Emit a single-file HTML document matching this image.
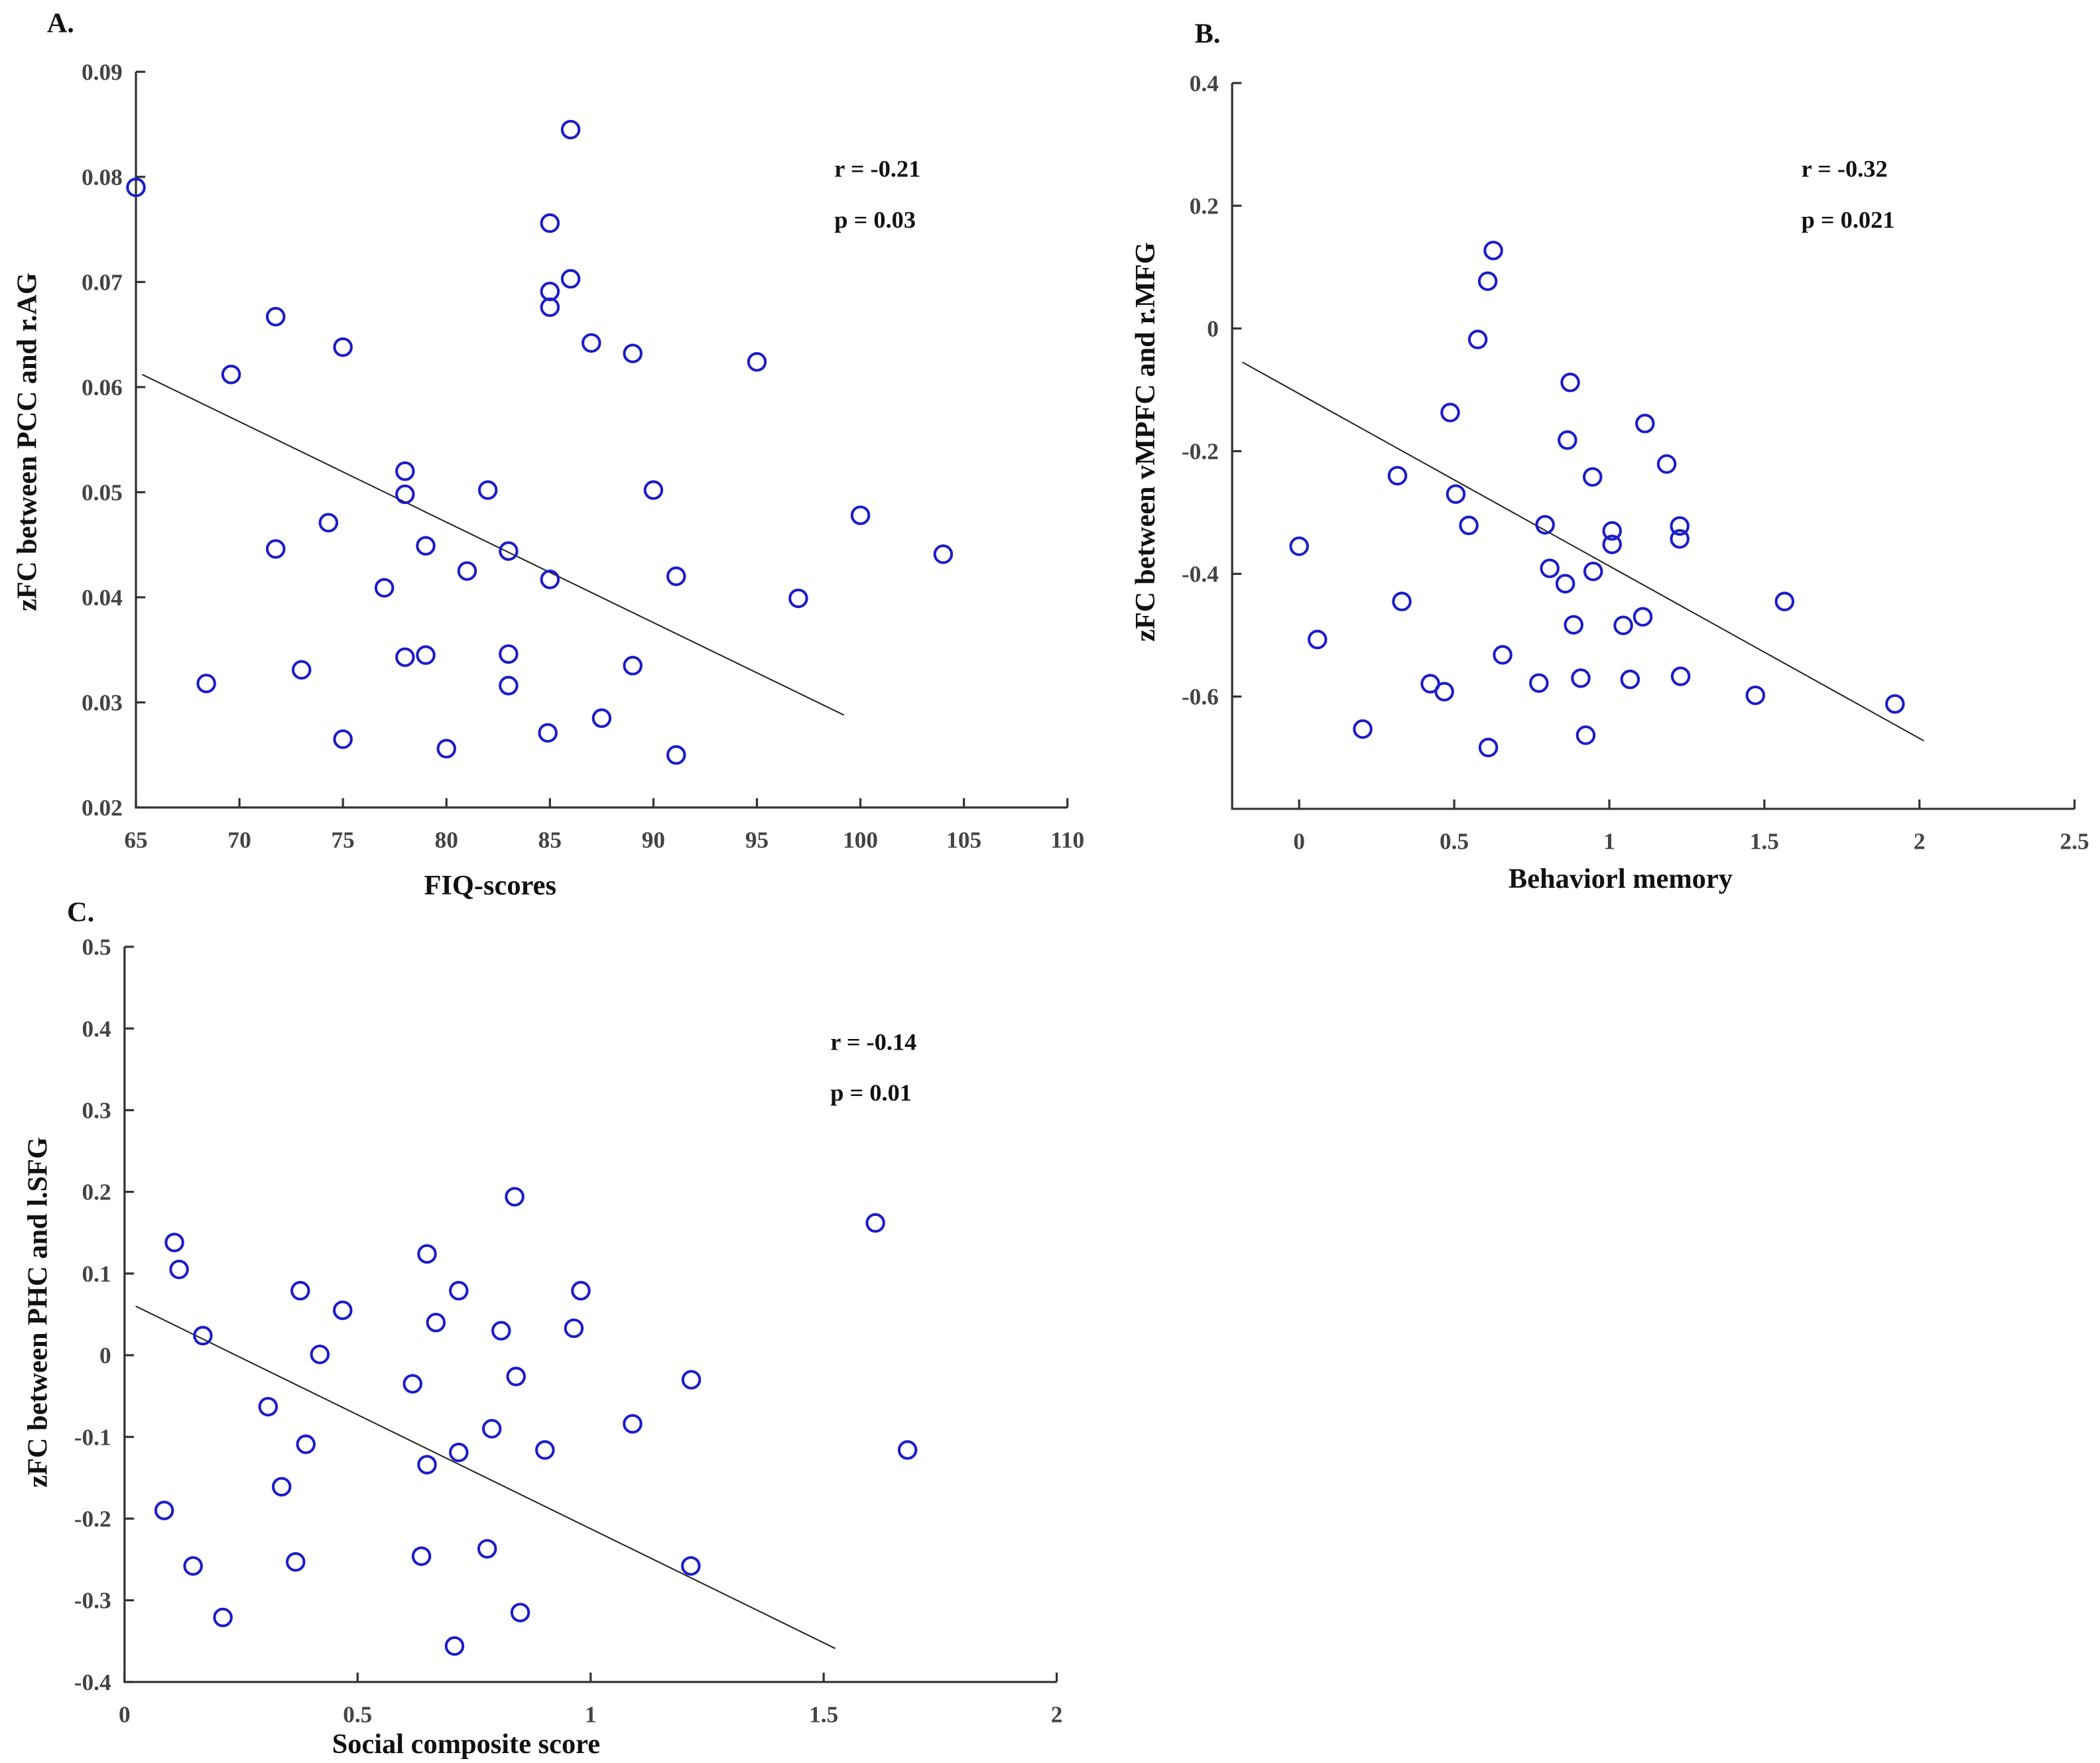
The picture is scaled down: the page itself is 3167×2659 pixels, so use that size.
<!DOCTYPE html>
<html><head><meta charset="utf-8"><style>
html,body{margin:0;padding:0;background:#fff;}
svg{display:block;}
text{font-family:"Liberation Serif",serif;font-weight:bold;}
</style></head><body>
<svg id="fig" width="3167" height="2659" viewBox="0 0 1568 1316.5" preserveAspectRatio="none" xmlns="http://www.w3.org/2000/svg">
<rect x="0" y="0" width="1568" height="1316.5" fill="#fff"/>
<text x="35" y="24" font-size="21" fill="#111">A.</text>
<text x="892" y="32" font-size="21" fill="#111">B.</text>
<text x="50" y="688" font-size="21" fill="#111">C.</text>
</svg>
<script>
// Panel A data
const aX=[65,86,85,86,85,85,71.75,69.6,75,87,89,95,78,78,82,90,100,74.3,71.75,79,83,104,81,85,91.1,77,97,78,79,83,89,73,68.4,83,87.5,75,84.9,80,91.1];
const aY=[0.0790,0.0845,0.0756,0.0703,0.0691,0.0676,0.0667,0.0612,0.0638,0.0642,0.0632,0.0624,0.0520,0.0498,0.0502,0.0502,0.0478,0.0471,0.0446,0.0449,0.0444,0.0441,0.0425,0.0417,0.0420,0.0409,0.0399,0.0343,0.0345,0.0346,0.0335,0.0331,0.0318,0.0316,0.0285,0.0265,0.0271,0.0256,0.0250];
const aFitX=[65.3,99.2];
const aFitY=[0.0612,0.0288];
const aXTicks=[65,70,75,80,85,90,95,100,105,110];
const aYTicks=[0.02,0.03,0.04,0.05,0.06,0.07,0.08,0.09];
const aYTickLabels=["0.02","0.03","0.04","0.05","0.06","0.07","0.08","0.09"];
// Panel B data
const bX=[0.626,0.608,0.576,0.874,0.487,1.115,0.865,1.185,0.317,0.946,0.505,0,0.547,0.793,1.009,1.227,1.009,1.227,0.808,0.948,0.858,0.331,1.565,0.059,0.885,1.045,1.108,0.656,0.423,0.468,0.773,0.908,1.067,1.230,1.471,1.921,0.205,0.610,0.924];
const bY=[0.127,0.077,-0.018,-0.088,-0.137,-0.155,-0.182,-0.221,-0.240,-0.242,-0.270,-0.355,-0.321,-0.320,-0.330,-0.322,-0.352,-0.343,-0.391,-0.396,-0.416,-0.445,-0.445,-0.507,-0.483,-0.484,-0.470,-0.532,-0.579,-0.592,-0.578,-0.570,-0.572,-0.567,-0.598,-0.612,-0.653,-0.683,-0.663];
const bFitX=[-0.183,2.014];
const bFitY=[-0.055,-0.672];
const bXTicks=[0,0.5,1,1.5,2,2.5];
const bXTickLabels=["0","0.5","1","1.5","2","2.5"];
const bYTicks=[-0.6,-0.4,-0.2,0,0.2,0.4];
const bYTickLabels=["-0.6","-0.4","-0.2","0","0.2","0.4"];
// Panel C data
const cX=[0.837,1.611,0.107,0.117,0.649,0.377,0.717,0.979,0.468,0.668,0.808,0.964,0.168,0.419,0.618,0.84,1.216,0.308,1.09,0.788,0.389,0.717,0.902,1.68,0.649,0.337,0.085,0.147,0.367,0.637,0.778,1.215,0.211,0.849,0.708];
const cY=[0.194,0.162,0.138,0.105,0.124,0.079,0.079,0.079,0.055,0.040,0.030,0.033,0.024,0.001,-0.035,-0.026,-0.030,-0.063,-0.084,-0.090,-0.109,-0.119,-0.116,-0.116,-0.134,-0.161,-0.190,-0.258,-0.253,-0.246,-0.237,-0.258,-0.321,-0.315,-0.356];
const cFitX=[0.024,1.525];
const cFitY=[0.060,-0.359];
const cXTicks=[0,0.5,1,1.5,2];
const cXTickLabels=["0","0.5","1","1.5","2"];
const cYTicks=[-0.4,-0.3,-0.2,-0.1,0,0.1,0.2,0.3,0.4,0.5];
const cYTickLabels=["-0.4","-0.3","-0.2","-0.1","0","0.1","0.2","0.3","0.4","0.5"];

const NS="http://www.w3.org/2000/svg";
const svg=document.getElementById('fig');
function mk(tag,attrs,parent){const e=document.createElementNS(NS,tag);for(const k in attrs)e.setAttribute(k,attrs[k]);(parent||svg).appendChild(e);return e;}

function panel(id,cfg){
  const g=mk('g',{});
  
  
  const sx=v=>cfg.x0+(v-cfg.xmin)/(cfg.xmax-cfg.xmin)*(cfg.x1-cfg.x0);
  const sy=v=>cfg.y0-(v-cfg.ymin)/(cfg.ymax-cfg.ymin)*(cfg.y0-cfg.y1);
  const ax=mk('path',{d:`M${cfg.x0},${cfg.y1} V${cfg.y0} H${cfg.x1}`,stroke:'#333',fill:'none','stroke-width':1.6},g);
  
  
  cfg.xt.forEach((v,i)=>{
    const x=sx(v);
    mk('line',{x1:x,x2:x,y1:cfg.y0,y2:cfg.y0-7,stroke:'#333','stroke-width':1.6},g);
    const t=mk('text',{x:x,y:cfg.y0+30,'font-size':17.5,fill:'#444','text-anchor':'middle'},g);
    t.textContent=cfg.xl[i];
    
    
  });
  cfg.yt.forEach((v,i)=>{
    const y=sy(v);
    mk('line',{x1:cfg.x0,x2:cfg.x0+7,y1:y,y2:y,stroke:'#333','stroke-width':1.6},g);
    const t=mk('text',{x:cfg.x0-10,y:y+6,'font-size':17.5,fill:'#444','text-anchor':'end'},g);
    t.textContent=cfg.yl[i];
    
    
  });
  const fl=mk('line',{x1:sx(cfg.fx[0]),y1:sy(cfg.fy[0]),x2:sx(cfg.fx[1]),y2:sy(cfg.fy[1]),stroke:'#222','stroke-width':1},g);
  
  
  cfg.px.forEach((v,i)=>{
    const c=mk('circle',{cx:sx(v),cy:sy(cfg.py[i]),r:6.3,fill:'none',stroke:'#1c1cc8','stroke-width':2},g);
    
    
  });
  const xt=mk('text',{x:cfg.xtx,y:cfg.xty,'font-size':21,fill:'#111','text-anchor':'middle'},g);
  xt.textContent=cfg.xtitle;
  
  
  const yt=mk('text',{x:0,y:0,'font-size':21,fill:'#111','text-anchor':'middle',transform:`translate(${cfg.ytx},${cfg.yty}) rotate(-90)`},g);
  yt.textContent=cfg.ytitle;
  
  
  const r=mk('text',{x:cfg.sx,y:cfg.sy,'font-size':18,fill:'#111'},g);
  r.textContent=cfg.r;
  
  
  const p=mk('text',{x:cfg.sx,y:cfg.sy+38,'font-size':18,fill:'#111'},g);
  p.textContent=cfg.p;
  
  
}

panel('panel-a',{x0:101.5,x1:797,y0:603,y1:53.6,xmin:65,xmax:110,ymin:0.02,ymax:0.09,
  xt:aXTicks,xl:aXTicks.map(String),yt:aYTicks,yl:aYTickLabels,fx:aFitX,fy:aFitY,px:aX,py:aY,
  xtitle:'FIQ-scores',xtx:366,xty:668,ytitle:'zFC between PCC and r.AG',ytx:27,yty:330,
  r:'r = -0.21',p:'p = 0.03',sx:623,sy:132});
panel('panel-b',{x0:920,x1:1549,y0:604,y1:62,xmin:-0.216,xmax:2.5,ymin:-0.783,ymax:0.4,
  xt:bXTicks,xl:bXTickLabels,yt:bYTicks,yl:bYTickLabels,fx:bFitX,fy:bFitY,px:bX,py:bY,
  xtitle:'Behaviorl memory',xtx:1210,xty:663,ytitle:'zFC between vMPFC and r.MFG',ytx:862,yty:330,
  r:'r = -0.32',p:'p = 0.021',sx:1345,sy:132});
panel('panel-c',{x0:93,x1:789,y0:1256,y1:707,xmin:0,xmax:2,ymin:-0.4,ymax:0.5,
  xt:cXTicks,xl:cXTickLabels,yt:cYTicks,yl:cYTickLabels,fx:cFitX,fy:cFitY,px:cX,py:cY,
  xtitle:'Social composite score',xtx:348,xty:1309,ytitle:'zFC between PHC and l.SFG',ytx:35,yty:980,
  r:'r = -0.14',p:'p = 0.01',sx:620,sy:784});
</script>
</body></html>
